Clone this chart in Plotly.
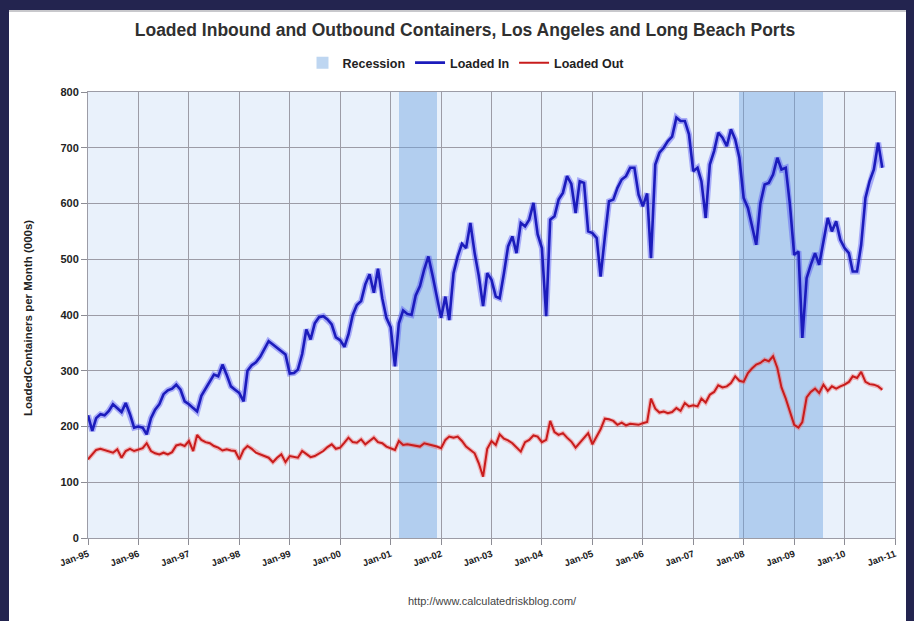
import pandas as pd
import plotly.graph_objects as go

# ---------------- data ----------------
start_month = "1995-01-01"

loaded_in = [
    220, 192, 215, 222, 220, 228, 240, 233, 226, 242, 222, 198,   # 1995
    200, 198, 186, 215, 230, 240, 258, 265, 268, 275, 266, 245,   # 1996
    240, 233, 227, 255, 268, 280, 293, 290, 311, 293, 272, 266,   # 1997
    260, 245, 300, 310, 315, 325, 340, 353, 347, 341, 335, 329,   # 1998
    295, 296, 302, 330, 374, 356, 385, 396, 398, 392, 383, 360,   # 1999
    355, 343, 365, 400, 418, 425, 455, 473, 440, 483, 430, 395,   # 2000
    378, 308, 385, 408, 402, 400, 435, 452, 482, 505, 470, 433,   # 2001
    395, 433, 391, 475, 505, 528, 520, 565, 511, 470, 416, 475,   # 2002
    463, 433, 430, 475, 523, 541, 511, 565, 559, 571, 601, 545,   # 2003
    520, 398, 571, 577, 607, 619, 649, 635, 583, 640, 637, 550,   # 2004
    547, 538, 469, 540, 604, 607, 628, 643, 649, 664, 664, 616,   # 2005
    595, 618, 502, 670, 691, 700, 712, 720, 754, 748, 748, 724,   # 2006
    658, 664, 640, 574, 670, 694, 727, 718, 703, 733, 715, 682,   # 2007
    610, 592, 560, 526, 600, 634, 637, 652, 682, 661, 664, 598,   # 2008
    508, 514, 359, 466, 490, 511, 490, 529, 574, 550, 568, 535,   # 2009
    520, 511, 478, 478, 526, 610, 640, 661, 709, 664,             # 2010
]

loaded_out = [
    141, 150, 158, 160, 158, 156, 153, 159, 144, 156, 160, 156,   # 1995
    158, 161, 170, 156, 152, 150, 153, 150, 154, 166, 168, 165,   # 1996
    174, 156, 185, 176, 172, 170, 165, 162, 157, 159, 157, 156,   # 1997
    141, 158, 165, 160, 153, 150, 147, 144, 136, 144, 150, 136,   # 1998
    147, 145, 144, 156, 150, 145, 147, 152, 156, 163, 168, 160,   # 1999
    162, 171, 180, 172, 171, 177, 168, 174, 180, 172, 170, 164,   # 2000
    161, 158, 174, 167, 168, 167, 166, 164, 170, 168, 167, 164,   # 2001
    161, 176, 182, 180, 182, 174, 164, 158, 152, 134, 110, 160,   # 2002
    174, 167, 186, 178, 175, 170, 162, 155, 172, 176, 184, 182,   # 2003
    172, 176, 210, 190, 185, 188, 180, 173, 162, 170, 180, 188,   # 2004
    168, 182, 195, 214, 213, 210, 203, 207, 202, 205, 204, 203,   # 2005
    206, 208, 250, 232, 225, 227, 224, 226, 233, 228, 242, 236,   # 2006
    238, 236, 250, 243, 257, 262, 274, 270, 272, 278, 290, 282,   # 2007
    280, 296, 304, 311, 314, 320, 317, 326, 305, 270, 250, 228,   # 2008
    203, 198, 208, 252, 262, 268, 260, 275, 264, 272, 268, 272,   # 2009
    275, 280, 290, 287, 298, 280, 276, 275, 272, 266,             # 2010
]

recession_start = ["2001-03-01", "2007-12-01"]
recession_end = ["2001-11-30", "2009-07-25"]

y_ticks = [0, 100, 200, 300, 400, 500, 600, 700, 800]
x_tick_years = list(range(1995, 2012))
x_tick_labels = ["Jan-%02d" % (y % 100) for y in x_tick_years]

# ---------------- figure ----------------
months = pd.date_range(start_month, periods=len(loaded_in), freq="MS")

W, H = 914, 621
ML, MR, MT, MB = 88, 19, 92, 83
PW, PH = W - ML - MR, H - MT - MB


def px_x(px):
    return (px - ML) / PW


def px_y(py):
    return (H - MB - py) / PH


rs = pd.to_datetime(recession_start)
re_ = pd.to_datetime(recession_end)
rec_mid = [a + (b - a) / 2 for a, b in zip(rs, re_)]
rec_width = [(b - a).total_seconds() * 1000 for a, b in zip(rs, re_)]

FONT = "Liberation Sans, Arial, sans-serif"

fig = go.Figure()

fig.add_trace(go.Bar(
    x=rec_mid, y=[y_ticks[-1]] * len(rec_mid), width=rec_width,
    name="<b>Recession</b>", marker=dict(color="rgba(110,165,225,0.45)", line=dict(width=0)),
    hoverinfo="skip",
))

# soft halos
fig.add_trace(go.Scatter(x=months, y=loaded_in, mode="lines", showlegend=False,
                         line=dict(color="rgba(70,70,245,0.40)", width=6), hoverinfo="skip"))
fig.add_trace(go.Scatter(x=months, y=loaded_out, mode="lines", showlegend=False,
                         line=dict(color="rgba(245,90,90,0.40)", width=4.5), hoverinfo="skip"))

fig.add_trace(go.Scatter(x=months, y=loaded_in, mode="lines", name="<b>Loaded In</b>",
                         line=dict(color="#1c1cbc", width=2.6)))
fig.add_trace(go.Scatter(x=months, y=loaded_out, mode="lines", name="<b>Loaded Out</b>",
                         line=dict(color="#c81c1c", width=2.0)))

fig.update_layout(
    width=W, height=H,
    margin=dict(l=ML, r=MR, t=MT, b=MB, pad=0),
    paper_bgcolor="white",
    plot_bgcolor="#e9f1fb",
    bargap=0,
    showlegend=True,
    title=dict(
        text="<b>Loaded Inbound and Outbound Containers, Los Angeles and Long Beach Ports</b>",
        x=465 / W, xanchor="center", y=1 - 30 / H, yanchor="middle",
        font=dict(family=FONT, size=17.5, color="#303030"),
    ),
    legend=dict(
        orientation="h", x=px_x(466), xanchor="center", y=px_y(63), yanchor="middle",
        font=dict(family=FONT, size=12.5, color="#222222"),
        bgcolor="rgba(0,0,0,0)", itemwidth=30, tracegroupgap=0,
    ),
    xaxis=dict(
        type="date",
        range=["1995-01-01", "2011-01-01"],
        tickmode="array",
        tickvals=[pd.Timestamp(year=y, month=1, day=1) for y in x_tick_years],
        ticktext=["<b>%s</b>" % t for t in x_tick_labels],
        tickangle=-20,
        tickfont=dict(family=FONT, size=9.5, color="#222222"),
        ticks="outside", ticklen=6, tickcolor="#8c8c94", tickwidth=1,
        showgrid=True, gridcolor="#9c9ca6", gridwidth=1,
        showline=True, linecolor="#9c9ca6", linewidth=1, mirror=True,
        zeroline=False, automargin=False,
    ),
    yaxis=dict(
        range=[0, 800],
        tickmode="array",
        tickvals=y_ticks,
        ticktext=["<b>%d</b>" % v for v in y_ticks],
        tickfont=dict(family=FONT, size=11, color="#222222"),
        ticks="outside", ticklen=6, tickcolor="#8c8c94", tickwidth=1,
        showgrid=True, gridcolor="#9c9ca6", gridwidth=1,
        showline=True, linecolor="#9c9ca6", linewidth=1, mirror=True,
        zeroline=False, automargin=False,
    ),
)

fig.add_annotation(
    text="<b>LoadedContainers per Month (000s)</b>", textangle=-90,
    xref="paper", yref="paper", x=px_x(28), y=px_y(318), xanchor="center", yanchor="middle",
    showarrow=False, font=dict(family=FONT, size=11.5, color="#222222"),
)
fig.add_annotation(
    text="http://www.calculatedriskblog.com/",
    xref="paper", yref="paper", x=px_x(492), y=px_y(601), xanchor="center", yanchor="middle",
    showarrow=False, font=dict(family=FONT, size=11, color="#444444"),
)

# dark frame around the picture (top, left, right)
navy = "#23244f"
for x0, x1, y0, y1 in [(0, 9, 0, H), (906, W, 0, H), (0, W, 0, 10)]:
    fig.add_shape(type="rect", xref="paper", yref="paper",
                  x0=px_x(x0), x1=px_x(x1), y0=px_y(y1), y1=px_y(y0),
                  fillcolor=navy, line=dict(width=0), layer="above")
fig.add_shape(type="line", xref="paper", yref="paper",
              x0=px_x(9), x1=px_x(906), y0=px_y(11), y1=px_y(11),
              line=dict(color="#c8c8cc", width=2), layer="above")

fig.write_html("out.html",
               config={"displayModeBar": False},
               post_script="document.body.style.margin='0px';document.body.style.padding='0px';")
